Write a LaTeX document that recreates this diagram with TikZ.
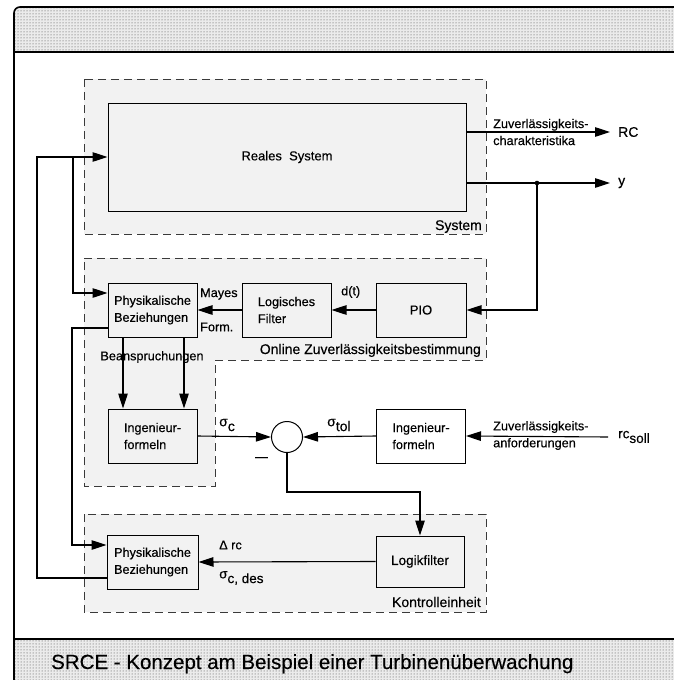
\documentclass[tikz,border=0pt]{standalone}
\usepackage{fontspec}
\setmainfont{Liberation Sans}[FakeBold=0.35]
\usetikzlibrary{arrows.meta,patterns}
\definecolor{grpfill}{HTML}{F2F2F2}
\definecolor{dashc}{HTML}{3A3A3A}
\begin{document}
\begin{tikzpicture}[x=1pt,y=-1pt,
  every node/.style={font=\fontsize{12.7}{17}\selectfont, inner sep=0pt},
  blk/.style={draw, line width=1pt, fill=grpfill, minimum width=89pt, minimum height=54pt, align=left},
  wblk/.style={blk, fill=white},
  grp/.style={draw=dashc, dash pattern=on 8pt off 5pt, line width=0.9pt, fill=grpfill},
  grplabel/.style={font=\fontsize{14}{16}\selectfont, anchor=base east},
  conn/.style={line width=1.1pt},
  arr/.style={conn, -{Triangle[length=15pt,width=9.5pt]}},
  lbl/.style={anchor=west},
  band/.style={fill=black!8},
  bandpat/.style={pattern=dots, pattern color=black!75}
]
\useasboundingbox (0,0) rectangle (674,680);
\clip (0,0) rectangle (674,680);

% bands
\path[band] (690,52) -- (14,52) [rounded corners=6]-- (14,7) [sharp corners]-- (690,7) -- cycle;
\path[bandpat] (690,52) -- (14,52) [rounded corners=6]-- (14,7) [sharp corners]-- (690,7) -- cycle;
\path[band] (14,639) rectangle (690,690);
\path[bandpat] (14,639) rectangle (690,690);
\draw[line width=1.6pt, rounded corners=6] (14,690) -- (14,7) -- (690,7);
\draw[line width=1.6pt] (14,52) -- (690,52);
\draw[line width=1.6pt] (14,639) -- (690,639);

% groups
\draw[grp] (84,79) rectangle (486,234);
\draw[grp] (84,258) -- (486,258) -- (486,360) -- (215,360) -- (215,486) -- (84,486) -- cycle;
\draw[grp] (84,514) rectangle (486,612);
\node[grplabel] (gsys) at (482,230) {System};
\node[grplabel] (gonl) at (481,354) {Online Zuverlässigkeitsbestimmung};
\node[grplabel] (gkon) at (481,607) {Kontrolleinheit};

% blocks
\node[blk, minimum width=358pt, minimum height=108pt, font=\fontsize{13}{16}\selectfont] (reales) at (287,157) {Reales\ \ System};
\node[blk] (phys1) at (152.5,310) {Physikalische\\Beziehungen};
\node[blk] (logf) at (286.5,310) {Logisches\\Filter};
\node[blk, minimum width=90pt, font=\fontsize{13}{16}\selectfont] (pio) at (421,310) {PIO};
\node[blk] (ing1) at (152.5,436) {Ingenieur-\\formeln};
\node[wblk] (ing2) at (421,436) {Ingenieur-\\formeln};
\node[draw, circle, line width=1pt, fill=white, minimum size=31pt] (sum) at (287,437) {};
\node[blk, minimum width=88pt, minimum height=51pt, font=\fontsize{13.5}{16}\selectfont] (logik) at (420,561.5) {Logikfilter};
\node[blk, minimum width=91pt] (phys2) at (152.5,562) {Physikalische\\Beziehungen};

% outputs
\node[lbl, inner xsep=8pt, font=\fontsize{14}{16}\selectfont] (rc) at (610,132) {RC};
\node[lbl, inner xsep=8pt, font=\fontsize{14}{16}\selectfont] (yout) at (610,183) {y};
\node[lbl, align=left] (zchar) at (493,132) {Zuverlässigkeits-\\charakteristika};
\coordinate (jn) at (537,183);
\draw[arr] (reales.east |- rc.west) -- (rc.west);
\draw[arr] (reales.east |- jn) -- (yout.west);
\fill (jn) circle (2.3);
\draw[arr] (jn) |- (pio.east);
\draw[arr] (pio.west) -- (logf.east);
\draw[arr] (logf.west) -- (phys1.east);
\node[lbl] (mayes) at (200,294) {Mayes};
\node[lbl] (form) at (200,327) {Form.};
\node[lbl] (dt) at (341,292) {d(t)};

% stresses
\node (bean) at (152,357) {Beanspruchungen};
\draw[arr] ([xshift=-29.5pt]phys1.south) -- ([xshift=-29.5pt]ing1.north);
\draw[arr] ([xshift=31.5pt]phys1.south) -- ([xshift=31.5pt]ing1.north);

% comparison
\draw[arr] (ing1.east) -- (sum.west);
\draw[arr] (ing2.west) -- (sum.east);
\node[lbl, font=\fontsize{14}{16}\selectfont] (sigc) at (219,425) {σ\raisebox{-0.35em}{c}};
\node[lbl, font=\fontsize{14}{16}\selectfont] (sigtol) at (327,425) {σ\raisebox{-0.35em}{tol}};
\node[lbl] (minus) at (255,459) {—};
\node[lbl, inner xsep=10pt, font=\fontsize{13.5}{16}\selectfont] (rcsoll) at (608,437) {rc\raisebox{-0.35em}{soll}};
\node[lbl, align=left] (zanf) at (493,435.5) {Zuverlässigkeits-\\anforderungen};
\draw[arr] (rcsoll.west) -- (ing2.east);
\coordinate (sb) at (287,492);
\draw[arr] (sum.south) -- (sb) -| (logik.north);

% control unit
\draw[arr] (logik.west) -- (phys2.east);
\node[lbl] (drc) at (219,545) {Δ rc};
\node[lbl, font=\fontsize{13.5}{16}\selectfont] (sigdes) at (219,578) {σ\raisebox{-0.35em}{c, des}};

% feedback
\coordinate (fbA) at (37,578);
\coordinate (br) at (73,157);
\coordinate (y293) at (0,293);
\coordinate (c1) at (72,328);
\coordinate (c2) at (72,545);
\draw[arr] (phys2.west |- fbA) -- (fbA) |- (reales.west);
\draw[arr] (br) |- (phys1.west |- y293);
\draw[arr] (phys1.west |- c1) -- (c1) -- (c2) -- (phys2.west |- c2);

% title
\node[anchor=base west, font=\fontsize{20.5}{24}\selectfont] (title) at (51,669) {SRCE - Konzept am Beispiel einer Turbinenüberwachung};
\end{tikzpicture}
\end{document}
